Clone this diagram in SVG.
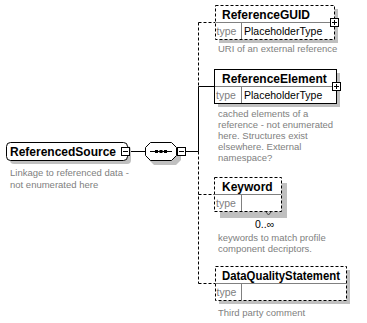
<svg xmlns="http://www.w3.org/2000/svg" width="367" height="323" viewBox="0 0 367 323">
  <style>
    .shadow { fill: #c0c0c0; stroke: none; }
    .box { fill: #ffffff; stroke: #000000; stroke-width: 1; }
    .opt { stroke-dasharray: 3,2; }
    .div { stroke: #808080; stroke-width: 1; fill: none; }
    .wire { stroke: #000000; stroke-width: 1; fill: none; }
    .title { font-family: "Liberation Sans", Arial, sans-serif; font-size: 12px; font-weight: bold; fill: #000000; }
    .tlabel { font-family: "Liberation Sans", Arial, sans-serif; font-size: 10.5px; fill: #808080; }
    .tval { font-family: "Liberation Sans", Arial, sans-serif; font-size: 10.5px; fill: #000000; }
    .doc { font-family: "Liberation Sans", Arial, sans-serif; font-size: 9.5px; fill: #808080; }
    .occ { font-family: "Liberation Sans", Arial, sans-serif; font-size: 10.5px; fill: #000000; }
  </style>
  <defs>
    <g id="minus">
      <rect x="-4" y="-4" width="8" height="8" fill="#ffffff" stroke="#000000"/>
      <line x1="-2.5" y1="0" x2="2.5" y2="0" stroke="#000000"/>
    </g>
    <g id="plus">
      <rect x="-4" y="-4" width="8" height="8" fill="#ffffff" stroke="#000000"/>
      <line x1="-2.5" y1="0" x2="2.5" y2="0" stroke="#000000"/>
      <line x1="0" y1="-2.5" x2="0" y2="2.5" stroke="#000000"/>
    </g>
  </defs>

  <rect width="367" height="323" fill="#ffffff"/>

  <!-- connectors -->
  <g id="connectors">
    <line class="wire" x1="130" y1="151.5" x2="145.5" y2="151.5"/>
    <line class="wire" x1="186" y1="151.5" x2="198.5" y2="151.5"/>
    <line class="wire opt" x1="198.5" y1="22.5" x2="198.5" y2="86.5"/>
    <line class="wire" x1="198.5" y1="86.5" x2="198.5" y2="151.5"/>
    <line class="wire opt" x1="198.5" y1="151.5" x2="198.5" y2="283.5"/>
    <line class="wire opt" x1="198.5" y1="22.5" x2="215.5" y2="22.5"/>
    <line class="wire" x1="198.5" y1="86.5" x2="214.5" y2="86.5"/>
    <line class="wire opt" x1="198.5" y1="194.5" x2="214.5" y2="194.5"/>
    <line class="wire opt" x1="198.5" y1="283.5" x2="215.5" y2="283.5"/>
  </g>

  <!-- root element -->
  <g id="ReferencedSource">
    <rect class="shadow" x="10" y="146" width="121" height="18" rx="4"/>
    <rect class="box" x="6.5" y="142.5" width="121" height="18" rx="4"/>
    <text class="title" x="10" y="156">ReferencedSource</text>
    <use href="#minus" x="125.5" y="151.5"/>
    <text class="doc" x="10" y="176">Linkage to referenced data -</text>
    <text class="doc" x="10" y="188">not enumerated here</text>
  </g>

  <!-- sequence compositor -->
  <g id="sequence">
    <polygon class="shadow" points="154,147 176,147 181,152 181,160 176,165 154,165 149,160 149,152"/>
    <polygon class="box" points="150.5,142.5 171.5,142.5 176.5,147.5 176.5,155.5 171.5,160.5 150.5,160.5 145.5,155.5 145.5,147.5"/>
    <line class="wire" x1="150" y1="151.5" x2="172" y2="151.5"/>
    <rect x="155" y="150" width="3" height="3" fill="#000000"/>
    <rect x="159.5" y="150" width="3" height="3" fill="#000000"/>
    <rect x="164" y="150" width="3" height="3" fill="#000000"/>
    <use href="#minus" x="181.5" y="151.5"/>
  </g>

  <g id="ReferenceGUID">
    <rect class="shadow" x="219" y="9" width="119" height="34"/>
    <rect class="box opt" x="215.5" y="5.5" width="119" height="34"/>
    <line class="div" x1="216" y1="22.5" x2="334" y2="22.5"/>
    <line class="div" x1="241.5" y1="23" x2="241.5" y2="39"/>
    <text class="title" x="222" y="19">ReferenceGUID</text>
    <text class="tlabel" x="216.5" y="35">type</text>
    <text class="tval" x="244" y="35">PlaceholderType</text>
    <use href="#plus" x="334.5" y="22.5"/>
    <text class="doc" x="218" y="52">URI of an external reference</text>
  </g>

  <g id="ReferenceElement">
    <rect class="shadow" x="218" y="73" width="122" height="34"/>
    <rect class="box" x="214.5" y="69.5" width="122" height="34"/>
    <line class="div" x1="215" y1="86.5" x2="336" y2="86.5"/>
    <line class="div" x1="241.5" y1="87" x2="241.5" y2="103"/>
    <text class="title" x="222" y="83">ReferenceElement</text>
    <text class="tlabel" x="216" y="99">type</text>
    <text class="tval" x="244" y="99">PlaceholderType</text>
    <use href="#plus" x="336.5" y="86.5"/>
    <text class="doc" x="218" y="117">cached elements of a</text>
    <text class="doc" x="218" y="128">reference - not enumerated</text>
    <text class="doc" x="218" y="139">here. Structures exist</text>
    <text class="doc" x="218" y="150">elsewhere. External</text>
    <text class="doc" x="218" y="161">namespace?</text>
  </g>

  <g id="Keyword">
    <rect class="shadow" x="220" y="183" width="67" height="35"/>
    <rect class="box opt" x="214.5" y="177.5" width="67" height="34"/>
    <line class="div" x1="215" y1="194.5" x2="281" y2="194.5"/>
    <line class="div" x1="241.5" y1="195" x2="241.5" y2="211"/>
    <polyline points="265.5,211.5 268.5,215 271.5,211.5" fill="none" stroke="#404040"/>
    <text class="title" x="222" y="191">Keyword</text>
    <text class="tlabel" x="216" y="207">type</text>
    <text class="occ" x="255" y="228">0..∞</text>
    <text class="doc" x="218" y="241">keywords to match profile</text>
    <text class="doc" x="218" y="252">component decriptors.</text>
  </g>

  <g id="DataQualityStatement">
    <rect class="shadow" x="219" y="270" width="131" height="34"/>
    <rect class="box opt" x="215.5" y="266.5" width="131" height="34"/>
    <line class="div" x1="216" y1="283.5" x2="346" y2="283.5"/>
    <line class="div" x1="241.5" y1="284" x2="241.5" y2="300"/>
    <text class="title" x="222" y="280" textLength="118" lengthAdjust="spacingAndGlyphs">DataQualityStatement</text>
    <text class="tlabel" x="216.5" y="296">type</text>
    <text class="doc" x="218" y="316">Third party comment</text>
  </g>
</svg>
